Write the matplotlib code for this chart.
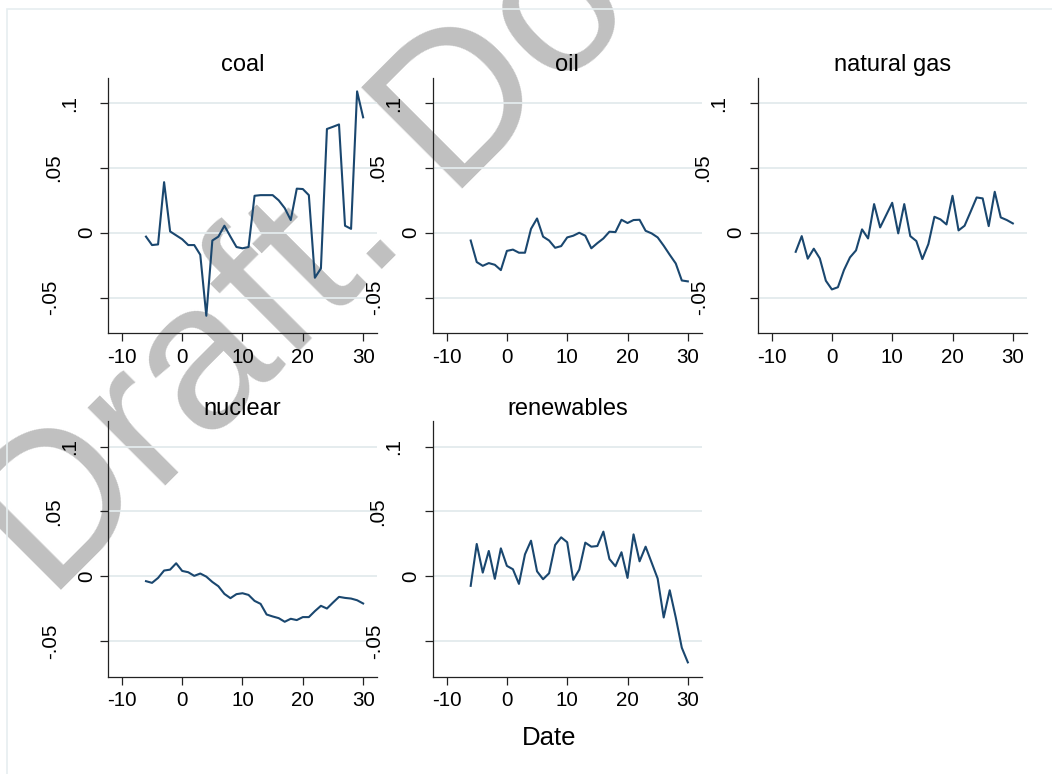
import numpy as np
import matplotlib.pyplot as plt
from matplotlib.patches import Rectangle

plt.rcParams['font.family'] = ['Liberation Sans', 'DejaVu Sans']

#%% Daten: taegliche Abweichungen je Energietraeger

days = np.arange(-6, 31)

coal = [-0.003, -0.0095, -0.009, 0.039, 0.001, -0.002, -0.005, -0.0095, -0.0095, -0.017,
        -0.064, -0.006, -0.003, 0.0054, -0.003, -0.011, -0.012, -0.011, 0.0285, 0.029,
        0.029, 0.029, 0.025, 0.019, 0.0098, 0.034, 0.0337, 0.029, -0.0347, -0.0275,
        0.080, 0.0817, 0.0835, 0.0054, 0.003, 0.109, 0.089]
oil = [-0.006, -0.0226, -0.0255, -0.0234, -0.0247, -0.0288, -0.014, -0.013, -0.0154, -0.0154,
       0.003, 0.011, -0.003, -0.006, -0.0116, -0.0103, -0.0036, -0.0023, 0.0, -0.0023,
       -0.012, -0.008, -0.0044, 0.0008, 0.0005, 0.010, 0.0075, 0.0098, 0.010, 0.0015,
       -0.0005, -0.0036, -0.010, -0.017, -0.0237, -0.0368, -0.0375]
natural_gas = [-0.0147, -0.0026, -0.020, -0.0123, -0.0198, -0.037, -0.0437, -0.042, -0.0288, -0.019,
               -0.0136, 0.0026, -0.0044, 0.0221, 0.0041, 0.0136, 0.0231, -0.0005, 0.0221, -0.0026,
               -0.0064, -0.0203, -0.0087, 0.0123, 0.0103, 0.0064, 0.0285, 0.0018, 0.0054, 0.0162,
               0.0272, 0.0265, 0.0051, 0.0316, 0.0118, 0.0098, 0.0072]
nuclear = [-0.0038, -0.0051, -0.0013, 0.0044, 0.0051, 0.010, 0.0041, 0.0031, 0.0003, 0.0021,
           -0.0003, -0.0044, -0.0077, -0.0136, -0.0169, -0.0138, -0.0131, -0.0144, -0.019, -0.0213,
           -0.0295, -0.031, -0.0323, -0.0351, -0.0328, -0.0338, -0.0315, -0.0315, -0.0269, -0.0228,
           -0.0249, -0.0203, -0.0159, -0.0167, -0.0172, -0.0185, -0.021]
renewables = [-0.0074, 0.0249, 0.0028, 0.0195, -0.002, 0.0215, 0.008, 0.0054, -0.0059, 0.0169,
              0.0274, 0.0038, -0.0023, 0.0023, 0.0241, 0.030, 0.0262, -0.0028, 0.0051, 0.0259,
              0.0228, 0.0233, 0.0344, 0.0133, 0.0077, 0.0185, -0.0013, 0.0323, 0.0115, 0.0228,
              0.0105, -0.0018, -0.0318, -0.0108, -0.0318, -0.0551, -0.0664]

titles = ['coal', 'oil', 'natural gas', 'nuclear', 'renewables']
series = [coal, oil, natural_gas, nuclear, renewables]

xticks = [-10, 0, 10, 20, 30]
yticks = [-0.05, 0, 0.05, 0.1]
ytick_labels = ['-.05', '0', '.05', '.1']

#%% Layout (in Pixel)

W, H = 1052, 774
fig = plt.figure(figsize=(W / 100, H / 100), dpi=100)
fig.patch.set_facecolor('white')

# Wasserzeichen hinter allen Achsen
fig.text(50 / W, 1 - 602 / H, 'Draft. Do not cite', rotation=45, rotation_mode='anchor',
         ha='left', va='baseline', fontsize=150, color='#c0c0c0', zorder=-5)

# Rahmen der Grafikregion
fig.add_artist(Rectangle((7 / W, -0.05), 1.1, 1 - 9 / H + 0.05, transform=fig.transFigure,
                         fill=False, edgecolor='#e6eef0', lw=1.2, zorder=-4))

col_left = [108.3, 433, 758]
row_top = [77.5, 421]
pw, ph = 268.7, 255.5

navy = '#1a476f'
grid_col = '#e3ebed'
tick_fs = 14.8

# Abstand (px) der senkrechten y-Labels von der Achse
ylab_dist = {'-.05': 58, '0': 22, '.05': 55, '.1': 39}

for i, (name, vals) in enumerate(zip(titles, series)):
    r, c = divmod(i, 3)
    left, top = col_left[c], row_top[r]
    ax = fig.add_axes([left / W, 1 - (top + ph) / H, pw / W, ph / H])
    ax.patch.set_alpha(0)

    for yv in yticks:
        ax.axhline(yv, color=grid_col, lw=1.3, zorder=1)
    ax.plot(days, vals, color=navy, lw=1.5, zorder=3)

    ax.set_xlim(-12.25, 32.3)
    ax.set_ylim(-0.0773, 0.1197)
    ax.set_xticks(xticks)
    ax.set_xticklabels([str(t) for t in xticks], fontsize=tick_fs)
    ax.set_yticks(yticks)
    ax.set_yticklabels([])
    ax.tick_params(axis='both', length=5.8, width=0.9, color='#222222')
    ax.tick_params(axis='x', pad=5)

    for yv, lab in zip(yticks, ytick_labels):
        ax.annotate(lab, xy=(0, yv), xycoords=ax.get_yaxis_transform(),
                    xytext=(-ylab_dist[lab] * 0.72, 0), textcoords='offset points',
                    rotation=90, ha='center', va='center', fontsize=tick_fs)

    for s in ['top', 'right']:
        ax.spines[s].set_visible(False)
    for s in ['left', 'bottom']:
        ax.spines[s].set_color('#222222')
        ax.spines[s].set_linewidth(0.9)

    ax.set_title(name, fontsize=17, pad=4.5)

fig.text(549 / W, 1 - 745 / H, 'Date', ha='center', va='baseline', fontsize=18.5)

fig.savefig('out.png', dpi=100)
